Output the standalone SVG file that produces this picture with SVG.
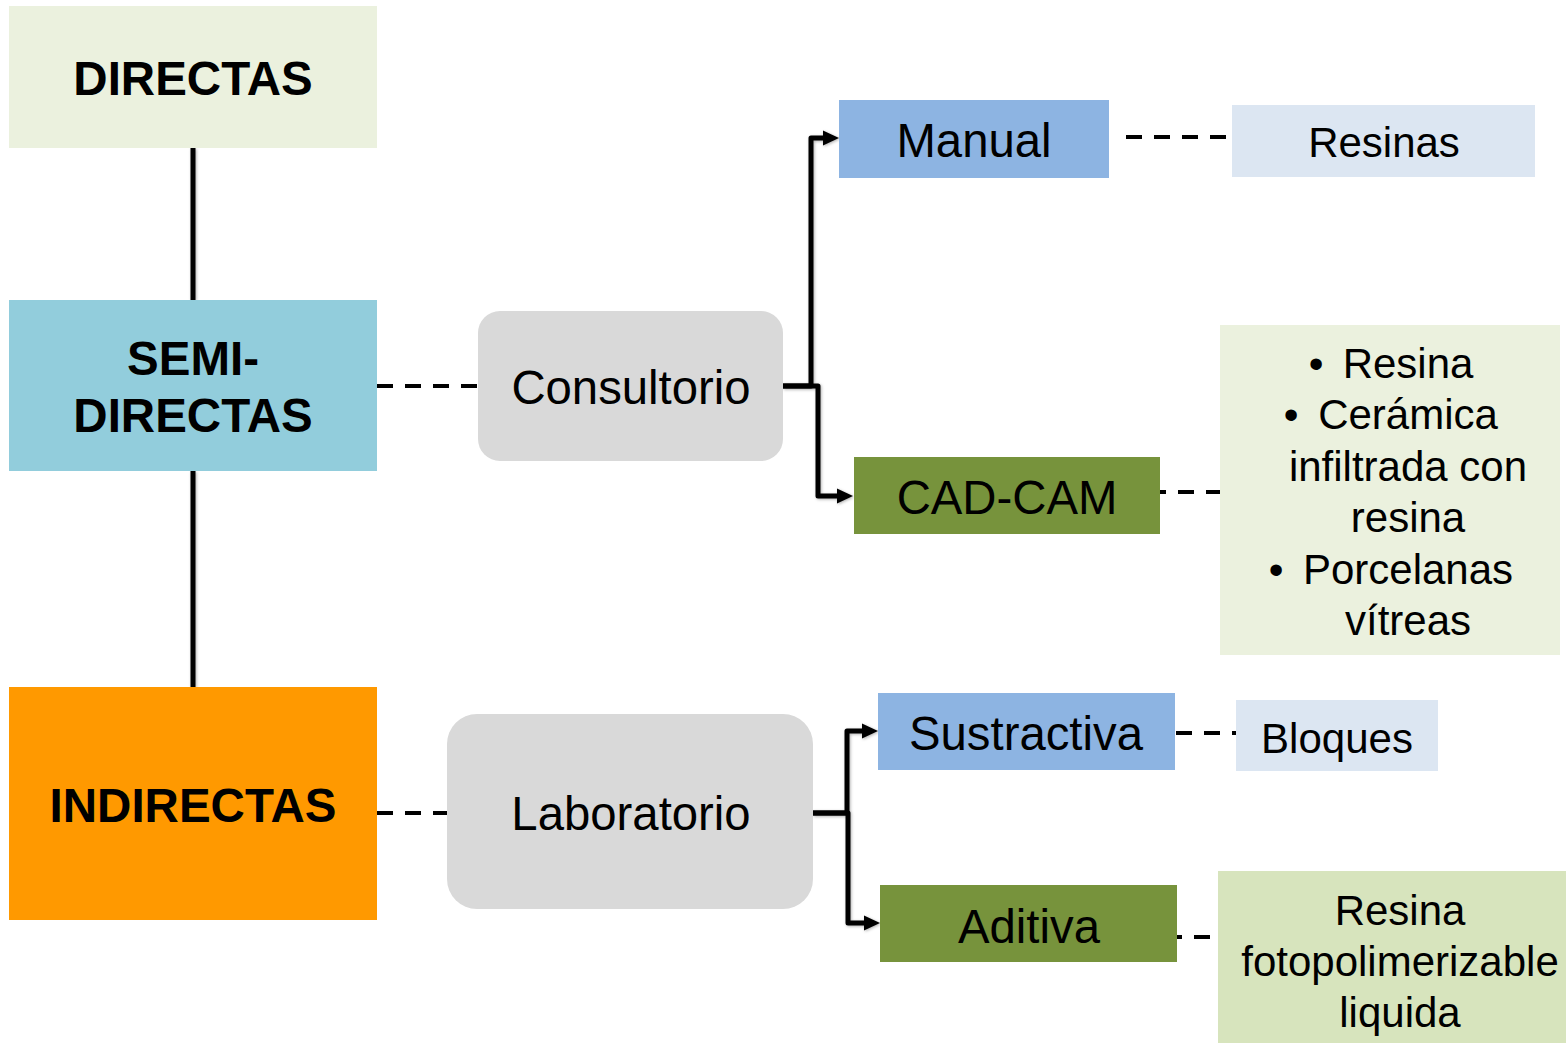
<svg xmlns="http://www.w3.org/2000/svg" width="1566" height="1043" viewBox="0 0 1566 1043">
  <defs>
    <style>
      text { font-family: "Liberation Sans", Arial, sans-serif; fill: #000; text-anchor: middle; }
      .title { font-size: 47.5px; font-weight: bold; }
      .mid { font-size: 47.3px; }
      .small { font-size: 42px; }
      .solid { stroke: #000; stroke-width: 5; fill: none; }
      .dash { stroke: #000; stroke-width: 4; fill: none; stroke-dasharray: 16 12; }
      .elbow { stroke: #000; stroke-width: 5; fill: none; stroke-linejoin: round; }
    </style>
    <filter id="soft" x="-20%" y="-20%" width="140%" height="140%">
      <feDropShadow dx="1" dy="1" stdDeviation="1.5" flood-color="#000" flood-opacity="0.3"/>
    </filter>
  </defs>

  <rect width="1566" height="1043" fill="#fff"/>

  <!-- connectors -->
  <g id="connectors">
    <g filter="url(#soft)">
      <line class="solid" x1="193" y1="148" x2="193" y2="300"/>
      <line class="solid" x1="193" y1="471" x2="193" y2="687"/>
      <path class="elbow" d="M783,386 H811 V138 H826"/>
      <path d="M823,130.5 L839,138 L823,145.5 Z"/>
      <path class="elbow" d="M783,386 H818 V496 H840"/>
      <path d="M837,488.5 L853,496 L837,503.5 Z"/>
      <path class="elbow" d="M813,813 H847 V731 H865"/>
      <path d="M862,723.5 L878,731 L862,738.5 Z"/>
      <path class="elbow" d="M813,813 H848 V923 H867"/>
      <path d="M864,915.5 L880,923 L864,930.5 Z"/>
    </g>
    <line class="dash" x1="377" y1="386" x2="478" y2="386"/>
    <line class="dash" x1="377" y1="813" x2="447" y2="813"/>
    <line class="dash" x1="1126" y1="137" x2="1232" y2="137"/>
    <line class="dash" x1="1150" y1="492" x2="1220" y2="492"/>
    <line class="dash" x1="1176" y1="733" x2="1236" y2="733"/>
    <line class="dash" x1="1166" y1="937" x2="1218" y2="937"/>
  </g>

  <!-- left column -->
  <g id="directas">
    <rect x="9" y="6" width="368" height="142" fill="#EBF1DE"/>
    <text class="title" x="193" y="95">DIRECTAS</text>
  </g>
  <g id="semi-directas">
    <rect x="9" y="300" width="368" height="171" fill="#92CDDC"/>
    <text class="title" x="193" y="375">SEMI-</text>
    <text class="title" x="193" y="432">DIRECTAS</text>
  </g>
  <g id="indirectas">
    <rect x="9" y="687" width="368" height="233" fill="#FF9900"/>
    <text class="title" x="193" y="822">INDIRECTAS</text>
  </g>

  <!-- places -->
  <g id="consultorio">
    <rect x="478" y="311" width="305" height="150" rx="22" fill="#D9D9D9"/>
    <text class="mid" x="631" y="404">Consultorio</text>
  </g>
  <g id="laboratorio">
    <rect x="447" y="714" width="366" height="195" rx="30" fill="#D9D9D9"/>
    <text class="mid" x="631" y="830">Laboratorio</text>
  </g>

  <!-- methods -->
  <g id="manual">
    <rect x="839" y="100" width="270" height="78" fill="#8DB4E2"/>
    <text class="mid" x="974" y="157">Manual</text>
  </g>
  <g id="cad-cam">
    <rect x="854" y="457" width="306" height="77" fill="#77933C"/>
    <text class="mid" x="1007" y="514">CAD-CAM</text>
  </g>
  <g id="sustractiva">
    <rect x="878" y="693" width="297" height="77" fill="#8DB4E2"/>
    <text class="mid" x="1026" y="750">Sustractiva</text>
  </g>
  <g id="aditiva">
    <rect x="880" y="885" width="297" height="77" fill="#77933C"/>
    <text class="mid" x="1029" y="943">Aditiva</text>
  </g>

  <!-- materials -->
  <g id="resinas">
    <rect x="1232" y="105" width="303" height="72" fill="#DCE6F2"/>
    <text class="small" x="1384" y="157">Resinas</text>
  </g>
  <g id="materiales-cad-cam">
    <rect x="1220" y="325" width="340" height="330" fill="#EBF1DE"/>
    <text class="small" x="1316" y="378">•</text>
    <text class="small" x="1408" y="378">Resina</text>
    <text class="small" x="1291" y="429">•</text>
    <text class="small" x="1408" y="429">Cerámica</text>
    <text class="small" x="1408" y="481">infiltrada con</text>
    <text class="small" x="1408" y="532">resina</text>
    <text class="small" x="1276" y="584">•</text>
    <text class="small" x="1408" y="584">Porcelanas</text>
    <text class="small" x="1408" y="635">vítreas</text>
  </g>
  <g id="bloques">
    <rect x="1236" y="700" width="202" height="71" fill="#DCE6F2"/>
    <text class="small" x="1337" y="753">Bloques</text>
  </g>
  <g id="resina-liquida">
    <rect x="1218" y="871" width="348" height="172" fill="#D7E4BD"/>
    <text class="small" x="1400" y="925">Resina</text>
    <text class="small" x="1400" y="976">fotopolimerizable</text>
    <text class="small" x="1400" y="1027">liquida</text>
  </g>
</svg>
